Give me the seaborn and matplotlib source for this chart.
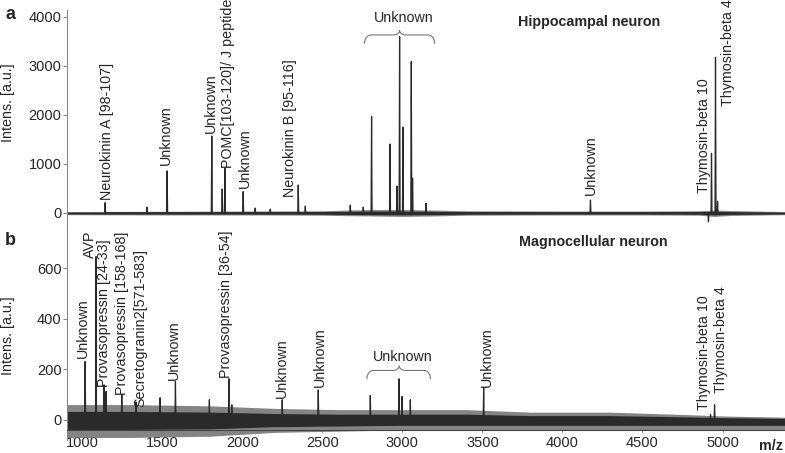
import numpy as np
import matplotlib
matplotlib.use('Agg')
import matplotlib.pyplot as plt
import seaborn as sns

# --- data ------------------------------------------------------------------
# hippocampal neuron (panel a): peak m/z and intensity
hip_mz = [1144, 1406, 1531, 1810, 1875, 1892, 2006, 2081, 2175, 2350, 2394,
          2675, 2756, 2808, 2923, 2967, 2983, 3004, 3056, 3064, 3148, 4175,
          4912, 4931, 4956, 4969]
hip_int = [210, 120, 860, 1570, 490, 910, 435, 100, 80, 570, 140,
           160, 120, 1965, 1408, 550, 3600, 1755, 3090, 710, 200, 265,
           -177, 1218, 3177, 230]

# baseline noise envelope, panel a
hip_noise_mz = [906, 1500, 2000, 2500, 2650, 2800, 3000, 3200, 3400, 4000, 4500, 4850, 4950, 5050, 5390]
hip_noise_hi = [30, 35, 40, 45, 60, 70, 70, 60, 45, 40, 40, 45, 60, 50, 30]
hip_noise_lo = [-35, -40, -40, -45, -55, -60, -70, -60, -45, -40, -40, -45, -70, -50, -35]

# magnocellular neuron (panel b)
mag_mz = [1019, 1087, 1137, 1150, 1248, 1337, 1487, 1583, 1795, 1917, 1935,
          2250, 2475, 2800, 2979, 2998, 3050, 3508, 4925, 4950]
mag_int = [230, 645, 138, 112, 99, 70, 87, 151, 79, 162, 59,
           79, 118, 96, 162, 92, 79, 126, 20, 59]

mag_noise_mz = [906, 1300, 1800, 2200, 2600, 3000, 3400, 3800, 4300, 4800, 5000, 5390]
mag_noise_hi = [60, 60, 55, 45, 40, 40, 40, 30, 30, 20, 15, 10]
mag_noise_lo = [-70, -70, -65, -50, -45, -40, -40, -40, -40, -40, -40, -40]

# annotations: text, m/z of text centre, intensity at text bottom
hip_labels = ['Neurokinin A [98-107]', 'Unknown', 'Unknown', 'POMC[103-120]/ J peptide',
              'Unknown', 'Neurokinin B [95-116]', 'Unknown', 'Thymosin-beta 10', 'Thymosin-beta 4']
hip_label_mz = [1156, 1525, 1806, 1912, 2019, 2300, 4175, 4881, 5031]
hip_label_y = [265, 980, 1633, 918, 510, 327, 367, 408, 2190]

mag_labels = ['Unknown', 'AVP', 'Provasopressin [24-33]', 'Provasopressin [158-168]',
              'Secretogranin2[571-583]', 'Unknown', 'Provasopressin [36-54]', 'Unknown',
              'Unknown', 'Unknown', 'Thymosin-beta 10', 'Thymosin-beta 4']
mag_label_mz = [1004, 1048, 1134, 1250, 1362, 1575, 1900, 2248, 2487, 3529, 4881, 4988]
mag_label_y = [245, 640, 130, 99, 51, 158, 166, 87, 130, 130, 39, 107]

# brace groups: start, tip, end m/z, level
hip_brace = [2764, 2983, 3202, 3633]
mag_brace = [2779, 2981, 3175, 195]

xmin, xmax = 906, 5390


def stick_line(mz, inten, w=3):
    xs, ys = [], []
    for m, h in zip(mz, inten):
        xs += [m - w, m, m + w]
        ys += [0, h, 0]
    return np.array(xs), np.array(ys)


def brace(ax, x0, xm, x1, yb, arm, tip, r):
    # curly brace opening downward, drawn in data units
    t = np.linspace(0, np.pi / 2, 12)
    lx = np.concatenate([x0 + r * (1 - np.cos(t)), [xm - r], xm - r + r * np.sin(t)])
    ly = np.concatenate([yb - arm * (1 - np.sin(t)), [yb], yb + tip * (1 - np.cos(t))])
    rx = xm + (x1 - xm) / (xm - x0) * (xm - lx[::-1])
    ry = ly[::-1]
    ax.plot(np.concatenate([lx, rx]), np.concatenate([ly, ry]), color='#777777', lw=0.8)


sns.set_style('ticks')
plt.rcParams['font.family'] = ['Liberation Sans', 'DejaVu Sans']
plt.rcParams['font.size'] = 10

fig = plt.figure(figsize=(7.85, 4.53), dpi=100)
ax1 = fig.add_axes([0.0854, 0.4923, 0.9146, 0.4857])
ax2 = fig.add_axes([0.0854, 0.0287, 0.9146, 0.4746])

panels = [
    (ax1, hip_mz, hip_int, hip_noise_mz, hip_noise_hi, hip_noise_lo),
    (ax2, mag_mz, mag_int, mag_noise_mz, mag_noise_hi, mag_noise_lo),
]
for ax, mz, inten, nmz, nhi, nlo in panels:
    # dense noise: light outer envelope, darker core
    ax.fill_between(nmz, nlo, nhi, color='#6e6e6e', lw=0, alpha=0.85)
    ax.fill_between(nmz, np.array(nlo) * 0.55, np.array(nhi) * 0.55, color='#1a1a1a', lw=0, alpha=0.85)
    sx, sy = stick_line(mz, inten)
    sns.lineplot(x=sx, y=sy, ax=ax, sort=False, estimator=None, color='#2a2a2a', lw=0.9)
    ax.set_xlim(xmin, xmax)
    for s in ['top', 'right']:
        ax.spines[s].set_visible(False)
    ax.spines['left'].set_color('#888888')
    ax.spines['left'].set_linewidth(0.8)
    ax.tick_params(axis='y', length=3, width=0.8, color='#888888', pad=1, labelsize=10.5)
    ax.set_xlabel('')
    ax.set_ylabel('')

ax1.set_ylim(-347, 4143)
ax1.set_yticks([0, 1000, 2000, 3000, 4000])
ax1.spines['bottom'].set_visible(False)
ax1.set_xticks([])

ax2.set_ylim(-80, 770)
ax2.set_yticks([0, 200, 400, 600])
ax2.spines['bottom'].set_position(('data', -42))
ax2.spines['bottom'].set_color('#444444')
ax2.spines['bottom'].set_linewidth(0.8)
ax2.spines['bottom'].set_zorder(5)
ax2.set_xticks([1000, 1500, 2000, 2500, 3000, 3500, 4000, 4500, 5000])
ax2.tick_params(axis='x', length=2, width=0.8, color='#aaaaaa', pad=2, labelsize=10.5)

for lab, x, y in zip(hip_labels, hip_label_mz, hip_label_y):
    ax1.text(x, y, lab, rotation=90, ha='center', va='bottom', fontsize=10.3)
for lab, x, y in zip(mag_labels, mag_label_mz, mag_label_y):
    ax2.text(x, y, lab, rotation=90, ha='center', va='bottom', fontsize=10.3)

brace(ax1, hip_brace[0], hip_brace[1], hip_brace[2], hip_brace[3], 170, 90, 40)
ax1.text(3006, 3980, 'Unknown', ha='center', va='center', fontsize=10.3)
brace(ax2, mag_brace[0], mag_brace[1], mag_brace[2], mag_brace[3], 33, 18, 40)
ax2.text(3004, 250, 'Unknown', ha='center', va='center', fontsize=10.3)

ax1.text(4169, 3898, 'Hippocampal neuron', ha='center', va='center', fontsize=10.3, fontweight='bold')
ax2.text(4194, 703, 'Magnocellular neuron', ha='center', va='center', fontsize=10.3, fontweight='bold')

fig.text(0.013, 0.967, 'a', fontsize=13, fontweight='bold', ha='center', va='center')
fig.text(0.013, 0.470, 'b', fontsize=13, fontweight='bold', ha='center', va='center')
fig.text(0.0102, 0.773, 'Intens. [a.u.]', rotation=90, ha='center', va='center', fontsize=10.3)
fig.text(0.0102, 0.260, 'Intens. [a.u.]', rotation=90, ha='center', va='center', fontsize=10.3)
fig.text(771 / 785, 1 - 446 / 453, 'm/z', ha='center', va='center', fontsize=10.3, fontweight='bold')

fig.savefig('out.png', dpi=100)
